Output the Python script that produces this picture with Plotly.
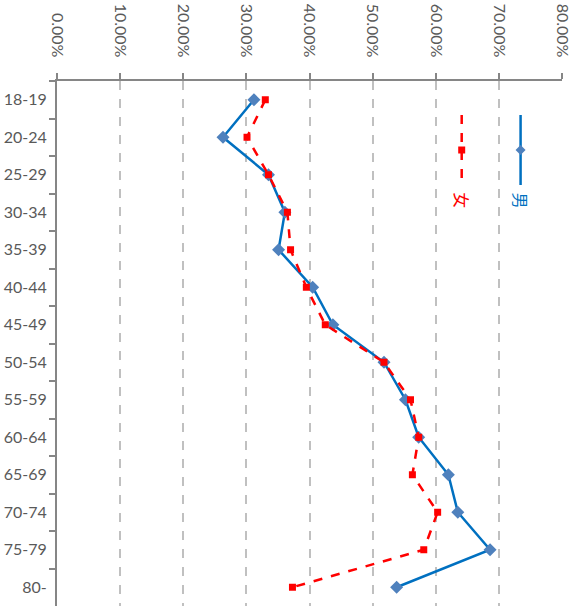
import plotly.graph_objects as go

categories = ["18-19", "20-24", "25-29", "30-34", "35-39", "40-44", "45-49",
              "50-54", "55-59", "60-64", "65-69", "70-74", "75-79", "80-"]
male = [0.312, 0.263, 0.335, 0.361, 0.351, 0.405, 0.437, 0.518, 0.552, 0.573,
        0.620, 0.635, 0.686, 0.538]
female = [0.330, 0.301, 0.335, 0.365, 0.370, 0.395, 0.425, 0.518, 0.560, 0.573,
          0.563, 0.603, 0.581, 0.373]
x_ticks = [0, 0.1, 0.2, 0.3, 0.4, 0.5, 0.6, 0.7, 0.8]

BLUE = "#0070C0"
BLUE_MK = "#4F81BD"
RED = "#FF0000"
FONT = "Lato"

fig = go.Figure()
fig.add_trace(go.Scatter(x=male, y=categories, mode="lines+markers", name="男",
                         line=dict(color=BLUE, width=2.5),
                         marker=dict(symbol="diamond", size=10, color=BLUE_MK),
                         showlegend=False))
fig.add_trace(go.Scatter(x=female, y=categories, mode="lines+markers", name="女",
                         line=dict(color=RED, width=2.5, dash="dash"),
                         marker=dict(symbol="square", size=7, color=RED),
                         showlegend=False))

W, H = 577, 607
L, R, T, B = 56.5, 14.5, 81, 1
pw, ph = W - L - R, H - T - B

def px(xp):
    return (xp - L) / pw

def py(yp):
    return (H - B - yp) / ph

shapes = []
annotations = []
# legend: 男
mx = px(521)
shapes.append(dict(type="line", xref="paper", yref="paper", x0=mx, x1=mx,
                   y0=py(115), y1=py(185), line=dict(color=BLUE, width=2.5)))
d = 5
shapes.append(dict(type="path", xref="paper", yref="paper",
                   path=(f"M {px(521)},{py(150 - d)} L {px(521 + d)},{py(150)} "
                         f"L {px(521)},{py(150 + d)} L {px(521 - d)},{py(150)} Z"),
                   fillcolor=BLUE_MK, line=dict(width=0)))
annotations.append(dict(xref="paper", yref="paper", x=mx, y=py(200), text="男",
                        textangle=90, showarrow=False, xanchor="center", yanchor="middle",
                        font=dict(color=BLUE, size=16, family="Noto Sans CJK SC")))
# legend: 女
fx = px(462)
shapes.append(dict(type="line", xref="paper", yref="paper", x0=fx, x1=fx,
                   y0=py(115), y1=py(181), line=dict(color=RED, width=2.5, dash="dash")))
shapes.append(dict(type="rect", xref="paper", yref="paper",
                   x0=px(458.5), x1=px(465.5), y0=py(146.5), y1=py(153.5),
                   fillcolor=RED, line=dict(width=0)))
annotations.append(dict(xref="paper", yref="paper", x=fx, y=py(200), text="女",
                        textangle=90, showarrow=False, xanchor="center", yanchor="middle",
                        font=dict(color=RED, size=16, family="Noto Sans CJK SC")))

fig.update_layout(
    width=W, height=H,
    margin=dict(l=L, r=R, t=T, b=B, pad=0),
    paper_bgcolor="white", plot_bgcolor="white",
    shapes=shapes, annotations=annotations,
    xaxis=dict(side="top", range=[0, 0.8], tickvals=x_ticks, tickformat=".2%",
               tickangle=90, automargin=False, showgrid=True, gridcolor="#C0C0C0",
               gridwidth=1.5, griddash="dash", zeroline=False, showline=True,
               linecolor="#868686", linewidth=2, ticks="outside", ticklen=6,
               tickcolor="#868686", tickwidth=1.5, ticklabelstandoff=10,
               tickfont=dict(family=FONT, size=16, color="#595959")),
    yaxis=dict(type="category", range=[13.5, -0.5], automargin=False, showgrid=False,
               zeroline=False, showline=True, linecolor="#868686", linewidth=2,
               ticks="outside", ticklen=6, tickcolor="#868686", tickwidth=1.5,
               tickson="boundaries", ticklabelstandoff=5,
               tickfont=dict(family=FONT, size=16, color="#595959")),
)

fig.write_html("out.html", config={"displayModeBar": False},
               post_script="document.body.style.margin='0';document.body.style.overflow='hidden';")
